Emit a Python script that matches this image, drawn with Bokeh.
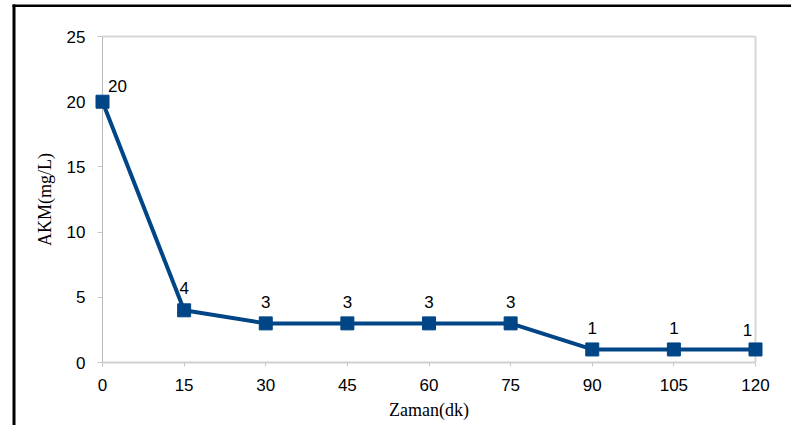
from bokeh.plotting import figure
from bokeh.models import Range1d, LinearAxis, FixedTicker, ColumnDataSource, BoxAnnotation
from bokeh.core.properties import value
from bokeh.embed import file_html
from bokeh.resources import INLINE

# data
times = [0, 15, 30, 45, 60, 75, 90, 105, 120]
akm = [20, 4, 3, 3, 3, 3, 1, 1, 1]
labels = ["20", "4", "3", "3", "3", "3", "1", "1", "1"]
x_ticks = [0, 15, 30, 45, 60, 75, 90, 105, 120]
y_ticks = [0, 5, 10, 15, 20, 25]
x_title = "Zaman(dk)"
y_title = "AKM(mg/L)"

# style offsets for the data labels (screen px)
label_dx = [15, 0, 0, 0, 0, 0, 0, 0, -8]
label_dy = [-16, -22, -21, -21, -21, -21, -21, -21, -19]

BLUE = "#004586"
SANS = "Liberation Sans"
SERIF = "Liberation Serif"

W, H = 791, 425
# frame covers the whole canvas; axes are placed at fixed data locations
px_x = 653.0 / 120.0
px_y = 326.0 / 25.0
x0_px, y25_px = 102.0, 36.0
x_start = -x0_px / px_x
x_end = x_start + W / px_x
y_end = 25 + y25_px / px_y
y_start = y_end - H / px_y

def sx(px):
    return x_start + px / px_x

def sy(px):
    return y_end - px / px_y

p = figure(width=W, height=H, output_backend="svg", toolbar_location=None,
           x_range=Range1d(x_start, x_end), y_range=Range1d(y_start, y_end),
           x_axis_location=None, y_axis_location=None,
           min_border_left=0, min_border_right=0, min_border_top=0, min_border_bottom=0)
p.xgrid.visible = False
p.ygrid.visible = False
p.outline_line_color = None
p.background_fill_color = "white"
p.border_fill_color = "white"

# left axis
ya = LinearAxis(ticker=FixedTicker(ticks=y_ticks), bounds=(0, 25), fixed_location=0, level="underlay")
ya.axis_line_color = "#b8b8b8"
ya.axis_line_width = 1
ya.major_tick_line_color = "#c8c8c8"
ya.major_tick_out = 5
ya.major_tick_in = 0
ya.minor_tick_line_color = None
ya.major_label_text_font = SANS
ya.major_label_text_font_size = "17px"
ya.major_label_text_color = "#000000"
ya.major_label_standoff = 12
ya.axis_label = y_title
ya.axis_label_text_font = SERIF
ya.axis_label_text_font_style = "normal"
ya.axis_label_text_font_size = "18px"
ya.axis_label_text_color = "#000000"
ya.axis_label_standoff = 9
p.add_layout(ya, "left")

# bottom axis
xa = LinearAxis(ticker=FixedTicker(ticks=x_ticks), bounds=(0, 120), fixed_location=0, level="underlay")
xa.axis_line_color = "#d0d0d0"
xa.axis_line_width = 2
xa.major_tick_line_color = "#c8c8c8"
xa.major_tick_out = 4
xa.major_tick_in = 0
xa.minor_tick_line_color = None
xa.major_label_text_font = SANS
xa.major_label_text_font_size = "17px"
xa.major_label_text_color = "#000000"
xa.major_label_standoff = 12
xa.axis_label = x_title
xa.axis_label_text_font = SERIF
xa.axis_label_text_font_style = "normal"
xa.axis_label_text_font_size = "18px"
xa.axis_label_text_color = "#000000"
xa.axis_label_standoff = 6
p.add_layout(xa, "below")

# plot-area border at the top and right
ra = LinearAxis(ticker=FixedTicker(ticks=[]), bounds=(0, 25), fixed_location=120, level="underlay")
ra.axis_line_color = "#d6d6d6"
ra.axis_line_width = 2
ra.major_tick_line_color = None
ra.minor_tick_line_color = None
ra.major_label_text_font_size = "0px"
p.add_layout(ra, "right")

ta = LinearAxis(ticker=FixedTicker(ticks=[]), bounds=(0, 120), fixed_location=25, level="underlay")
ta.axis_line_color = "#d6d6d6"
ta.axis_line_width = 2
ta.major_tick_line_color = None
ta.minor_tick_line_color = None
ta.major_label_text_font_size = "0px"
p.add_layout(ta, "above")

src = ColumnDataSource(dict(x=times, y=akm, lab=labels, dx=label_dx, dy=label_dy))
p.line("x", "y", source=src, line_color=BLUE, line_width=4)
p.scatter("x", "y", source=src, marker="square", size=13, fill_color=BLUE, line_color=BLUE)
p.text("x", "y", text="lab", source=src, x_offset="dx", y_offset="dy",
       text_align="center", text_baseline="alphabetic",
       text_font=value(SANS), text_font_size="17px", text_color="#000000")

# outer picture border (left and top)
p.add_layout(BoxAnnotation(left=sx(12), right=sx(15), top=sy(4), bottom=sy(H),
                           fill_color="black", fill_alpha=1, line_color=None, level="overlay"))
p.add_layout(BoxAnnotation(left=sx(12), right=sx(W), top=sy(4), bottom=sy(6.5),
                           fill_color="black", fill_alpha=1, line_color=None, level="overlay"))

open("out.html", "w").write(file_html(p, INLINE))
